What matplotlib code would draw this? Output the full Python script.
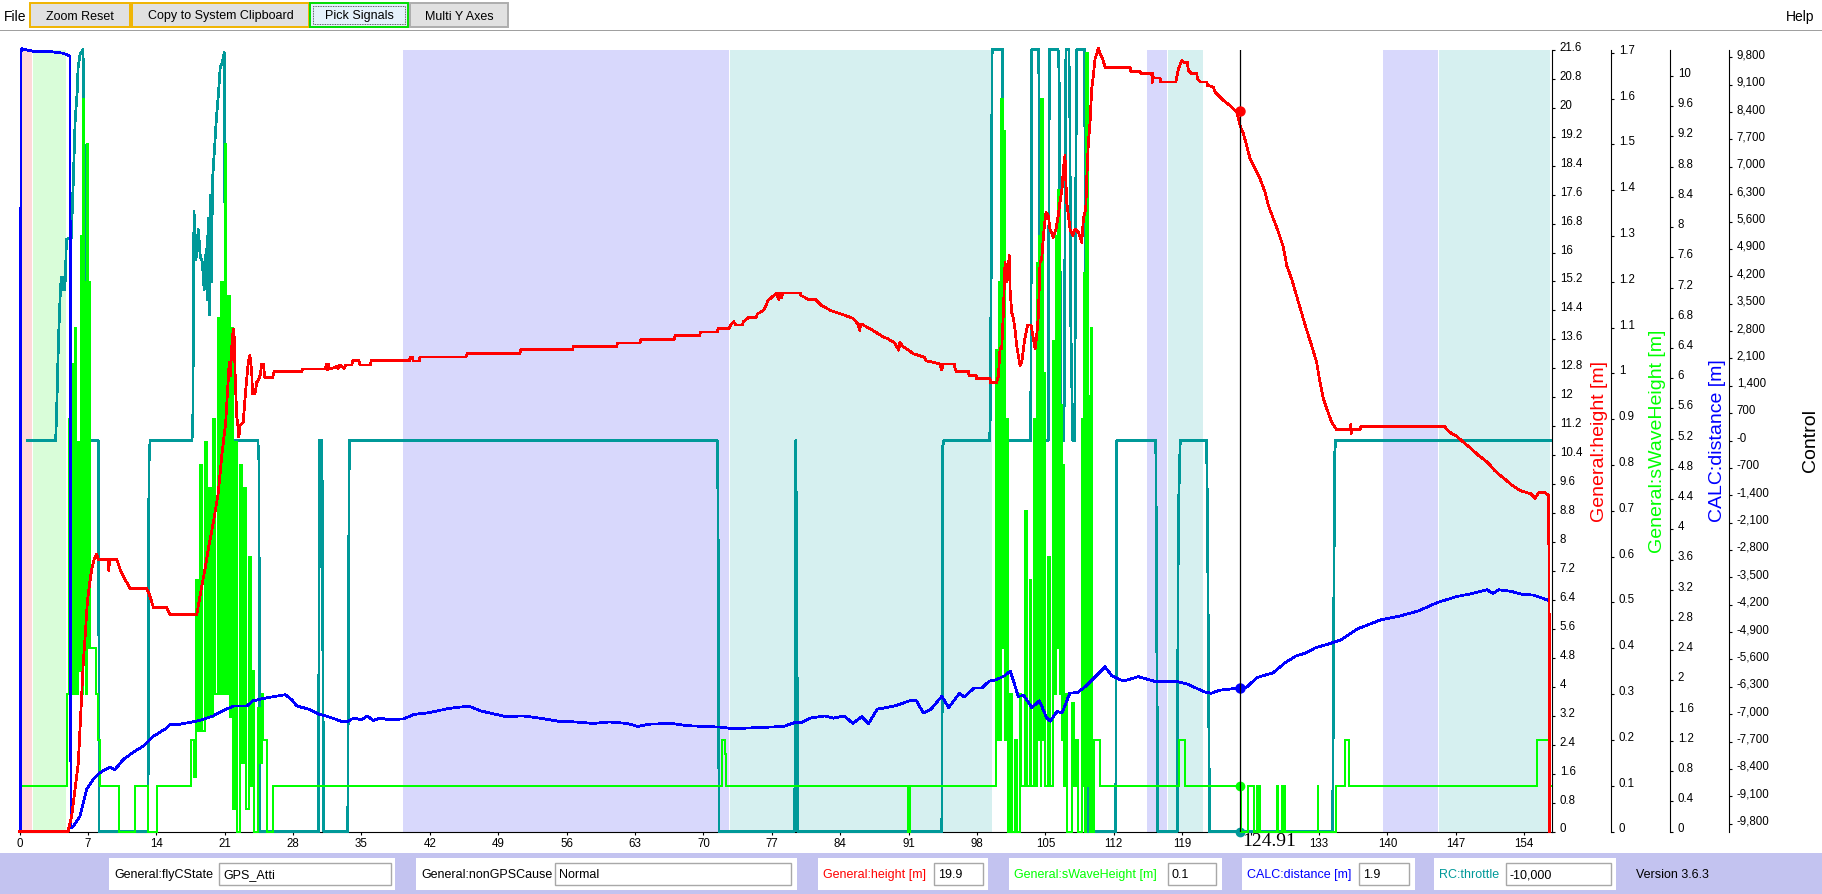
import numpy as np
import matplotlib
matplotlib.use("Agg")
import matplotlib.pyplot as plt
from matplotlib.patches import Rectangle

plt.rcParams['font.family'] = ['Liberation Sans', 'DejaVu Sans']

# ---------------- data (time [s], value) ----------------
height = [(0.0, 0.0), (4.99, 0.0), (5.0, 0.06), (5.34, 0.42), (5.68, 1.16), (6.02, 1.9), (6.19, 2.82),
          (6.37, 3.74), (6.53, 4.67), (6.7, 5.31), (6.94, 6.33), (7.14, 6.78), (7.39, 7.25), (7.63, 7.52),
          (7.9, 7.66), (8.07, 7.52), (9.1, 7.52), (9.15, 7.2), (9.2, 7.52), (9.95, 7.52), (10.29, 7.25),
          (10.8, 6.97), (11.31, 6.72), (13.02, 6.72), (13.36, 6.5), (13.7, 6.19), (15.07, 6.19), (15.4, 6.0),
          (18.14, 6.0), (18.3, 6.23), (18.65, 6.78), (18.99, 7.25), (19.32, 7.8), (19.84, 8.54), (20.35, 9.37),
          (20.7, 10.38), (21.1, 11.3), (21.3, 12.2), (21.47, 12.97), (21.6, 12.6), (21.7, 13.3), (21.88, 13.89),
          (22.0, 13.61), (22.06, 12.69), (22.23, 11.49), (22.4, 11.12), (22.45, 10.9), (22.57, 11.22),
          (22.9, 11.3), (23.0, 11.68), (23.18, 12.28), (23.42, 12.97), (23.59, 13.15), (23.77, 12.69),
          (23.85, 12.09), (24.1, 12.09), (24.28, 12.41), (24.5, 12.5), (24.62, 12.6), (24.8, 12.92),
          (24.96, 12.92), (25.1, 12.55), (25.9, 12.55), (26.08, 12.71), (28.9, 12.71), (28.95, 12.78),
          (31.3, 12.78), (31.4, 12.92), (31.5, 12.75), (31.6, 12.92), (31.7, 12.78), (32.0, 12.8), (32.5, 12.85),
          (32.6, 12.8), (32.8, 12.89), (33.2, 12.8), (33.4, 12.89), (34.0, 12.89), (34.1, 13.01), (34.75, 13.01),
          (34.85, 12.89), (35.9, 12.89), (36.0, 13.01), (39.9, 13.01), (40.0, 13.11), (40.2, 13.11), (40.3, 13.0),
          (40.9, 13.0), (41.0, 13.11), (45.7, 13.11), (45.8, 13.2), (51.2, 13.2), (51.3, 13.32), (56.6, 13.32),
          (56.7, 13.4), (61.1, 13.4), (61.2, 13.5), (63.5, 13.5), (63.6, 13.59), (67.0, 13.59), (67.1, 13.7),
          (69.6, 13.7), (69.7, 13.8), (71.4, 13.8), (71.5, 13.9), (72.65, 13.9), (72.8, 14.0), (73.1, 14.09),
          (73.3, 14.0), (74.0, 14.0), (74.1, 14.09), (74.6, 14.2), (75.4, 14.2), (75.5, 14.3), (76.1, 14.39),
          (76.4, 14.53), (76.6, 14.67), (77.1, 14.79), (77.5, 14.88), (77.7, 14.7), (77.8, 14.88), (78.0, 14.75),
          (78.1, 14.88), (79.9, 14.88), (80.0, 14.81), (80.8, 14.7), (81.5, 14.7), (82.1, 14.53), (83.1, 14.39),
          (84.1, 14.3), (85.3, 14.18), (85.8, 14.03), (86.0, 13.85), (86.1, 14.03), (87.1, 13.89), (88.2, 13.7),
          (88.9, 13.61), (89.5, 13.52), (90.0, 13.3), (90.1, 13.52), (90.4, 13.41), (90.9, 13.32), (91.5, 13.2),
          (92.6, 13.11), (92.8, 13.01), (94.2, 12.92), (94.4, 12.75), (94.5, 12.92), (95.7, 12.92),
          (95.75, 12.78), (95.92, 12.71), (97.12, 12.71), (97.18, 12.6), (97.9, 12.6), (97.97, 12.51),
          (99.33, 12.51), (99.4, 12.4), (100.0, 12.4), (100.2, 12.6), (100.3, 13.1), (100.36, 13.34),
          (100.53, 13.34), (100.7, 14.35), (100.87, 15.73), (101.04, 15.18), (101.31, 15.92), (101.38, 15.0),
          (101.55, 14.35), (101.72, 14.17), (101.89, 13.89), (102.06, 13.43), (102.23, 13.15), (102.4, 12.88),
          (102.58, 12.97), (102.75, 13.34), (102.92, 13.66), (103.19, 14.0), (103.53, 14.0), (103.77, 13.61),
          (103.94, 13.34), (104.11, 13.7), (104.28, 14.26), (104.45, 15.73), (104.62, 15.82), (104.86, 16.65),
          (105.06, 17.11), (105.3, 17.02), (105.47, 16.65), (105.8, 16.42), (106.08, 16.65), (106.32, 17.02),
          (106.49, 17.39), (106.7, 17.76), (106.84, 18.31), (107.0, 18.68), (107.18, 17.39), (107.35, 17.02),
          (107.52, 16.65), (107.8, 16.47), (108.03, 16.65), (108.37, 16.56), (108.72, 16.28), (108.89, 16.93),
          (109.13, 17.2), (109.23, 18.03), (109.4, 19.05), (109.57, 19.6), (109.74, 20.52), (109.91, 20.89),
          (110.08, 21.35), (110.25, 21.49), (110.42, 21.65), (110.59, 21.49), (110.87, 21.35), (111.1, 21.12),
          (113.66, 21.12), (113.73, 21.0), (114.68, 21.0), (114.79, 20.94), (115.88, 20.94), (115.95, 20.7),
          (116.0, 20.94), (116.05, 20.82), (116.73, 20.82), (116.8, 20.71), (118.34, 20.71), (118.61, 21.07),
          (118.95, 21.3), (119.19, 21.26), (119.53, 21.26), (119.64, 21.03), (119.98, 20.94), (120.49, 20.94),
          (120.56, 20.8), (120.9, 20.71), (121.52, 20.71), (121.59, 20.62), (122.2, 20.57), (122.37, 20.43),
          (122.89, 20.29), (123.23, 20.2), (123.67, 20.11), (124.25, 19.97), (124.59, 19.88), (124.92, 19.51),
          (125.27, 19.28), (125.6, 18.96), (125.95, 18.59), (126.46, 18.31), (126.97, 18.04), (127.48, 17.67),
          (127.82, 17.3), (128.33, 16.93), (128.85, 16.56), (129.36, 16.14), (129.7, 15.64), (130.2, 15.27),
          (130.7, 14.81), (131.2, 14.35), (131.7, 13.89), (132.25, 13.43), (132.76, 12.97), (133.1, 12.42),
          (133.45, 11.96), (133.8, 11.68), (134.3, 11.31), (134.8, 11.1), (136.2, 11.1), (136.25, 11.25),
          (136.3, 11.0), (136.35, 11.1), (137.2, 11.1), (137.3, 11.19), (145.9, 11.19), (146.1, 11.1),
          (146.6, 10.99), (147.1, 10.92), (147.6, 10.8), (148.0, 10.71), (148.4, 10.62), (148.9, 10.5),
          (149.3, 10.4), (149.8, 10.3), (150.4, 10.16), (151.0, 9.97), (151.6, 9.83), (152.2, 9.7),
          (152.8, 9.56), (153.6, 9.42), (154.2, 9.37), (154.7, 9.33), (155.1, 9.21), (155.5, 9.37),
          (156.1, 9.37), (156.5, 9.29), (156.55, 6.98), (156.6, 0.0)]

# sWaveHeight is a sampled step signal: (time the value starts, value)
swave = [(0.0, 0.2), (0.08, 0.1),
         (4.85, 0.3), (5.1, 0.9), (5.2, 0.3), (5.4, 1.02), (5.5, 0.3), (5.65, 1.1), (5.75, 0.3), (5.95, 0.85),
         (6.05, 0.35), (6.25, 1.3), (6.35, 0.3), (6.5, 1.6), (6.6, 0.4), (6.75, 1.2), (6.85, 0.3), (6.95, 1.5),
         (7.05, 0.4), (7.15, 1.2), (7.25, 0.4), (7.8, 0.3), (8.05, 0.2), (8.2, 0.1),
         (10.15, 0.0), (11.85, 0.1), (13.15, 0.0), (14.05, 0.1),
         (17.6, 0.2), (17.85, 0.12), (18.05, 0.55), (18.3, 0.22), (18.5, 0.8), (18.7, 0.22), (18.95, 0.85),
         (19.15, 0.25), (19.4, 0.75), (19.6, 0.25), (19.85, 0.9), (20.05, 0.3), (20.3, 1.12), (20.45, 0.3),
         (20.65, 1.2), (20.8, 0.3), (21.0, 1.5), (21.15, 0.3), (21.35, 1.17), (21.5, 0.25), (21.7, 1.1),
         (21.85, 0.05), (22.1, 0.85), (22.3, 0.0), (22.55, 0.8), (22.75, 0.15), (23.0, 0.75), (23.2, 0.05),
         (23.45, 0.6), (23.65, 0.1), (23.85, 0.35), (23.95, 0.0), (24.4, 0.27), (24.6, 0.15), (24.8, 0.3),
         (24.95, 0.2), (25.3, 0.0), (25.9, 0.1),
         (71.95, 0.2), (72.2, 0.17), (72.3, 0.1), (90.95, 0.0), (91.1, 0.1),
         (99.96, 1.05), (100.15, 0.2), (100.25, 1.2), (100.4, 0.2), (100.5, 1.6), (100.65, 0.4), (100.75, 1.53),
         (100.9, 0.2), (101.0, 0.9), (101.15, 0.0), (101.4, 0.3), (101.55, 0.0), (101.9, 0.2), (102.05, 0.0),
         (102.4, 0.3), (102.55, 0.1), (102.95, 0.7), (103.1, 0.1), (103.4, 0.55), (103.55, 0.1), (103.85, 0.9),
         (104.0, 0.1), (104.1, 1.24), (104.25, 0.2), (104.35, 1.3), (104.5, 0.1), (104.6, 1.6), (104.75, 0.2),
         (104.85, 1.0), (105.0, 0.1), (105.3, 0.6), (105.45, 0.1), (105.8, 1.07), (105.95, 0.3), (106.05, 1.3),
         (106.2, 0.4), (106.3, 1.4), (106.45, 0.3), (106.55, 0.93), (106.7, 0.2), (106.8, 0.8), (106.95, 0.1),
         (107.15, 0.3), (107.25, 0.0), (107.75, 0.28), (107.9, 0.1), (108.15, 0.2), (108.3, 0.0), (108.7, 0.9),
         (108.85, 0.1), (108.95, 1.22), (109.1, 0.0), (109.2, 1.7), (109.35, 0.1), (109.45, 0.95), (109.55, 0.0),
         (109.65, 1.1), (109.75, 0.0), (110.0, 0.2), (110.55, 0.1),
         (118.7, 0.2), (119.3, 0.1), (125.0, 0.0), (125.75, 0.1), (126.35, 0.0), (126.7, 0.1), (126.75, 0.0),
         (126.9, 0.1), (126.95, 0.0), (128.75, 0.1), (128.8, 0.0), (129.25, 0.1), (129.3, 0.0), (129.45, 0.1),
         (129.5, 0.0), (132.9, 0.1), (132.95, 0.0), (134.75, 0.1), (135.7, 0.2), (136.05, 0.1), (155.35, 0.2),
         (156.55, 0.1), (156.7, 0.1)]

distance = [(0.1, 0.0), (0.15, 10.32), (0.22, 10.36), (1.59, 10.32), (3.3, 10.32), (4.49, 10.3), (4.83, 10.28),
            (5.17, 10.26), (5.2, 5.0), (5.27, 0.05), (5.5, 0.07), (6.19, 0.2), (6.88, 0.56), (7.55, 0.69),
            (8.24, 0.78), (9.26, 0.85), (9.77, 0.82), (10.6, 0.95), (11.65, 1.05), (12.67, 1.13), (13.7, 1.26),
            (15.07, 1.37), (15.4, 1.42), (16.43, 1.42), (18.47, 1.47), (19.84, 1.53), (20.5, 1.58), (21.9, 1.66),
            (23.25, 1.66), (23.9, 1.73), (25.3, 1.77), (27.2, 1.81), (27.9, 1.74), (28.4, 1.66), (29.6, 1.62),
            (30.7, 1.55), (31.6, 1.52), (32.9, 1.46), (33.6, 1.46), (34.2, 1.5), (35.0, 1.48), (35.6, 1.53),
            (36.2, 1.47), (36.9, 1.5), (37.8, 1.48), (39.3, 1.49), (40.4, 1.55), (41.8, 1.57), (44.0, 1.63),
            (46.0, 1.66), (47.1, 1.6), (48.4, 1.56), (49.8, 1.52), (51.5, 1.53), (53.3, 1.5), (55.1, 1.46),
            (56.9, 1.45), (58.7, 1.43), (60.4, 1.45), (62.2, 1.43), (63.3, 1.39), (64.4, 1.42), (66.7, 1.43),
            (68.4, 1.4), (70.2, 1.39), (72.0, 1.38), (72.9, 1.36), (74.6, 1.37), (76.4, 1.38), (78.2, 1.39),
            (79.3, 1.44), (80.0, 1.44), (80.9, 1.5), (82.4, 1.53), (83.3, 1.5), (84.4, 1.53), (85.3, 1.43),
            (86.2, 1.52), (86.9, 1.43), (87.8, 1.62), (88.7, 1.64), (89.8, 1.67), (91.3, 1.74), (91.8, 1.73),
            (92.5, 1.57), (93.3, 1.62), (94.4, 1.79), (95.1, 1.64), (96.2, 1.83), (96.7, 1.78), (97.7, 1.9),
            (98.5, 1.9), (99.25, 1.99), (100.0, 2.01), (100.8, 2.06), (101.4, 2.12), (101.8, 1.97), (102.2, 1.79),
            (102.8, 1.8), (103.6, 1.64), (104.4, 1.73), (105.1, 1.51), (105.5, 1.46), (106.2, 1.59), (106.7, 1.57),
            (107.5, 1.83), (108.3, 1.84), (109.1, 1.92), (109.8, 2.01), (111.1, 2.18), (111.8, 2.06), (113.0, 1.99),
            (114.5, 2.05), (116.1, 1.99), (117.3, 1.98), (118.3, 1.99), (119.6, 1.95), (121.2, 1.85), (122.0, 1.83),
            (122.8, 1.87), (124.2, 1.89), (125.5, 1.9), (126.7, 2.04), (128.3, 2.1), (129.5, 2.23), (130.6, 2.32),
            (131.8, 2.37), (132.6, 2.43), (134.2, 2.49), (135.3, 2.54), (136.9, 2.68), (138.1, 2.74), (139.3, 2.8),
            (141.2, 2.85), (143.2, 2.92), (145.1, 3.03), (147.1, 3.11), (148.7, 3.15), (150.2, 3.2), (150.8, 3.15),
            (151.4, 3.2), (152.6, 3.18), (153.8, 3.14), (154.9, 3.13), (156.5, 3.06)]

throttle = [(0.8, 0), (3.7, 0), (3.8, 720), (3.99, 2580), (4.2, 3940), (4.3, 4170), (4.4, 3860), (4.5, 4170),
            (4.6, 3860), (4.7, 4170), (4.8, 5140), (5.3, 5190), (5.5, 6600), (5.7, 8210), (5.9, 8900),
            (6.0, 9540), (6.2, 9870), (6.5, 10000), (6.6, 8210), (6.65, 6140), (6.75, 0), (8.05, 0), (8.1, -670),
            (8.15, -10000), (13.15, -10000), (13.25, -610), (13.36, 0), (17.66, 0), (17.75, 720), (17.8, 3430),
            (17.86, 5860), (18.06, 4630), (18.3, 5400), (18.5, 4710), (18.7, 4580), (18.9, 3860), (19.1, 4890),
            (19.2, 3600), (19.3, 5680), (19.45, 3220), (19.55, 6270), (19.65, 4060), (19.75, 6650), (19.95, 7420),
            (20.15, 8240), (20.35, 8830), (20.55, 9570), (20.75, 9650), (20.9, 9850), (20.95, 9920), (21.0, 7520),
            (21.1, 0), (24.4, 0), (24.5, -490), (24.6, -10000), (30.6, -10000), (30.7, 0), (30.95, 0),
            (31.0, -2100), (31.1, -8720), (31.15, -10000), (33.6, -10000), (33.65, -6160), (33.75, 0), (71.4, 0),
            (71.45, -130), (71.5, -2150), (71.6, -10000), (79.3, -10000), (79.35, -9700), (79.45, 0),
            (79.55, -3400), (79.65, -10000), (94.4, -10000), (94.5, -150), (94.6, 0), (99.3, 0), (99.35, 590),
            (99.45, 4300), (99.55, 10000), (100.6, 10000), (100.65, 7500), (100.7, 0), (103.5, 0), (103.6, 10000),
            (104.3, 10000), (104.35, 9000), (104.4, 2500), (104.5, 0), (105.3, 0), (105.4, 10000),
            (106.3, 10000), (106.4, 9400), (106.45, 7300), (106.5, 4600), (106.6, 1000), (106.7, 0), (106.9, 0),
            (107.0, 5000), (107.1, 10000), (107.4, 10000), (107.5, 8500), (107.6, 3000), (107.8, 0), (108.0, 0),
            (108.1, 6000), (108.2, 10000), (109.0, 10000), (109.05, 7600), (109.2, 0), (109.35, 0),
            (109.4, -10000), (109.5, -10000), (109.55, 0), (109.65, 0), (109.75, -10000), (112.2, -10000),
            (112.3, 0), (116.3, 0), (116.35, -2480), (116.5, -10000), (118.5, -10000), (118.6, -1970),
            (118.8, 0), (121.5, 0), (121.6, -2280), (121.8, -10000), (134.4, -10000), (134.6, -400),
            (134.7, 0), (156.7, 0)]

# flight-mode bands (start, end, colour)
bands = [(0.22, 1.31, '#ffd9d9'), (1.41, 4.73, '#d9fdd9'),
         (39.24, 72.6, '#d8d8fc'), (72.7, 99.5, '#d6f0f0'),
         (115.35, 117.45, '#d8d8fc'), (117.55, 121.15, '#d6f0f0'),
         (139.6, 145.2, '#d8d8fc'), (145.3, 156.65, '#d6f0f0')]

cursor_t = 124.91
status_labels = ['General:flyCState', 'General:nonGPSCause', 'General:height [m]',
                 'General:sWaveHeight [m]', 'CALC:distance [m]', 'RC:throttle']
status_values = ['GPS_Atti', 'Normal', '19.9', '0.1', '1.9', '-10,000']
cursor_vals = [19.9, 0.1, 1.9, -10000]

RED, GREEN, BLUE, TEAL = '#ff0000', '#00ff00', '#0000ff', '#009999'

# ---------------- figure ----------------
W, H = 1822, 895
fig = plt.figure(figsize=(W / 100, H / 100), dpi=100)
fig.patch.set_facecolor('white')

L, R, T, B = 19.5, 1552, 50.5, 832.5
ax = fig.add_axes([L / W, 1 - B / H, (R - L) / W, (B - T) / H])
ax.set_zorder(0)
ax_t = ax.twinx(); ax_t.set_zorder(1)
ax_g = ax.twinx(); ax_g.set_zorder(2)
ax_b = ax.twinx(); ax_b.set_zorder(3)
ax_r = ax.twinx(); ax_r.set_zorder(4)

ax.set_xlim(0, 156.85)
ax.set_ylim(0, 21.61)
ax_r.set_ylim(0, 21.61)
ax_g.set_ylim(0, 1.707)
ax_b.set_ylim(0, 10.35)
ax_t.set_ylim(-10000, 10000)

for s0, s1, c in bands:
    ax.axvspan(s0, s1, color=c, lw=0, zorder=0)

def xy(pts):
    a = np.array(pts, dtype=float)
    return a[:, 0], a[:, 1]

LW = 1.25
ax_t.plot(*xy(throttle), color=TEAL, lw=LW, clip_on=False, antialiased=False)
ax_g.plot(*xy(swave), color=GREEN, lw=LW, clip_on=False, drawstyle='steps-post', antialiased=False)
ax_b.plot(*xy(distance), color=BLUE, lw=LW, clip_on=False, antialiased=False)
ax_r.plot(*xy(height), color=RED, lw=LW, clip_on=False, antialiased=False)

# cursor
ax_r.axvline(cursor_t, color='black', lw=0.9, zorder=5)
ax_r.plot(cursor_t, cursor_vals[0], 'o', color=RED, ms=6.5, clip_on=False, zorder=6)
ax_g.plot(cursor_t, cursor_vals[1], 'o', color=GREEN, ms=6, clip_on=False, zorder=6)
ax_b.plot(cursor_t, cursor_vals[2], 'o', color=BLUE, ms=6.5, clip_on=False, zorder=6)
ax_t.plot(cursor_t, cursor_vals[3], 'o', color=TEAL, ms=6, clip_on=False, zorder=6)
ax.text(cursor_t + 0.25, -0.001, '124.91', transform=ax.get_xaxis_transform(), ha='left', va='top',
        fontsize=14, family='Liberation Serif', clip_on=False)

# spines
for a in (ax, ax_t, ax_g, ax_b, ax_r):
    for sp in ('left', 'top'):
        a.spines[sp].set_visible(False)
for a in (ax_t, ax_g, ax_b, ax_r):
    a.spines['bottom'].set_visible(False)
ax_r.axis('off')
ax_g.spines['right'].set_position(('outward', 59 * 0.72))
ax_b.spines['right'].set_position(('outward', 118 * 0.72))
ax_t.spines['right'].set_position(('outward', 177 * 0.72))
for a in (ax, ax_t, ax_g, ax_b):
    for sp in a.spines.values():
        sp.set_linewidth(0.8)

# x axis
xt = np.arange(0, 155, 7)
ax.set_xticks(xt)
ax.set_xticklabels(['' if v == 126 else str(v) for v in xt])
ax.tick_params(axis='x', length=2.2, width=0.8, pad=1.5, labelsize=8.3)

# y axes
def style_y(a, major, fmt, longs):
    a.yaxis.tick_right()
    a.set_yticks(major)
    a.set_yticklabels([fmt(v) for v in major])
    a.set_yticks(longs, minor=True)
    a.tick_params(axis='y', which='major', length=1.8, width=0.8, pad=3.8, labelsize=8.3,
                  right=True, left=False, labelright=True, labelleft=False)
    a.tick_params(axis='y', which='minor', length=3.8, width=0.8, right=True, left=False)
    for t in a.yaxis.get_major_ticks():
        t.label2.set_verticalalignment('baseline')

def gfmt(v):
    return '%g' % round(v, 1)

def tfmt(v):
    return '-0' if v == 0 else '{:,}'.format(int(v))

style_y(ax, np.round(np.arange(0, 21.61, 0.8), 1), gfmt, [0, 4, 8, 12, 16, 20])
style_y(ax_g, np.round(np.arange(0, 1.71, 0.1), 1), gfmt, [0, 0.5, 1.0, 1.5])
style_y(ax_b, np.round(np.arange(0, 10.01, 0.4), 1), gfmt, [0, 2, 4, 6, 8, 10])
style_y(ax_t, np.arange(-9800, 9801, 700), tfmt, [-7000, -3500, 0, 3500, 7000])

# axis titles
def ptext(x, y, s, **kw):
    return fig.text(x / W, 1 - y / H, s, **kw)

ptext(1600, 441, 'General:height [m]', rotation=90, color=RED, ha='center', va='center', fontsize=14)
ptext(1658, 441, 'General:sWaveHeight [m]', rotation=90, color=GREEN, ha='center', va='center', fontsize=14)
ptext(1717, 441, 'CALC:distance [m]', rotation=90, color=BLUE, ha='center', va='center', fontsize=14)
ptext(1810, 441, 'Control', rotation=90, color='black', ha='center', va='center', fontsize=14)

# ---------------- window chrome ----------------
def prect(x0, y0, x1, y1, **kw):
    fig.patches.append(Rectangle((x0 / W, 1 - y1 / H), (x1 - x0) / W, (y1 - y0) / H,
                                 transform=fig.transFigure, figure=fig, **kw))

ptext(4, 17, 'File', va='center', ha='left', fontsize=10)
ptext(1786, 17, 'Help', va='center', ha='left', fontsize=10)
buttons = [('Zoom Reset', 30, 130, '#e1e1e1', '#f0b400'),
           ('Copy to System Clipboard', 132, 309, '#e1e1e1', '#f0b400'),
           ('Pick Signals', 310, 408, '#e5f1fb', '#00dd00'),
           ('Multi Y Axes', 410, 508, '#e1e1e1', '#adadad')]
for lab, x0, x1, fc, ec in buttons:
    prect(x0, 4, x1, 28, facecolor=fc, edgecolor=ec, lw=1.4)
    ptext((x0 + x1) / 2, 16.5, lab, ha='center', va='center', fontsize=9)
prect(313, 7, 405, 25, facecolor='none', edgecolor='#333333', lw=0.6, ls=(0, (1, 1)))
prect(0, 30.5, W, 31.5, facecolor='#a0a0a0', edgecolor='none')

# status bar
prect(0, 854, W, H, facecolor='#c3c3f0', edgecolor='none')
panels = [(109, 395, 114, 219, 391), (416, 797, 421, 555, 791), (818, 988, 823, 934, 983),
          (1009, 1222, 1014, 1168, 1216), (1242, 1415, 1247, 1359, 1409), (1434, 1616, 1439, 1506, 1611)]
label_colors = ['black', 'black', RED, GREEN, BLUE, TEAL]
for (p0, p1, lx, b0, b1), lab, val, col in zip(panels, status_labels, status_values, label_colors):
    prect(p0, 859, p1, 891, facecolor='white', edgecolor='none')
    prect(b0, 864, b1, 886, facecolor='white', edgecolor='#a8a8a8', lw=1)
    ptext(lx, 875.5, lab, ha='left', va='center', fontsize=9, color=col)
    ptext(b0 + 4, 875.5, val, ha='left', va='center', fontsize=9, color='black')
ptext(1636, 875.5, 'Version 3.6.3', ha='left', va='center', fontsize=9)

fig.savefig('out.png', dpi=100)
